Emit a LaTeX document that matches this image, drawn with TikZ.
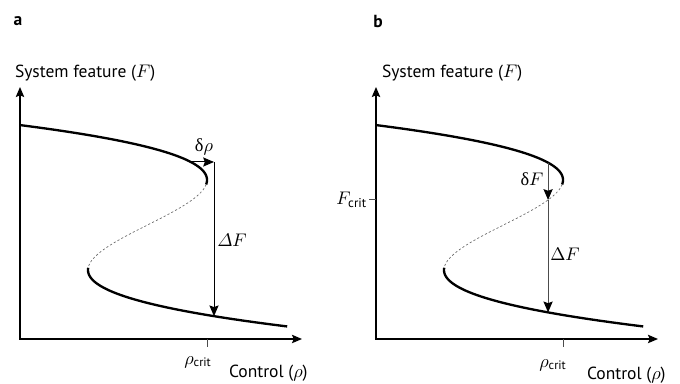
\documentclass[tikz,border=0pt]{standalone}
\usepackage{amsmath}
\usepackage{fontspec}
\setmainfont{PT Sans}
\newfontfamily\grkfont{Liberation Serif}
\usetikzlibrary{arrows.meta}

\begin{document}
\begin{tikzpicture}[
  x=0.6pt, y=0.6pt,
  font=\fontsize{10.5}{12}\selectfont,
  declare function={sx(\t)=147.5+29.75*(3*\t-\t*\t*\t); sy(\t)=159+45*\t;},
  % ── axes and S-curve
  axisline/.style={line width=0.9pt,
    {Stealth[length=6pt,width=5pt,inset=1pt]}-{Stealth[length=6pt,width=5pt,inset=1pt]}},
  stable/.style={line width=1.4pt},
  unstable/.style={line width=0.4pt, draw=black!60, dash pattern=on 1.3pt off 1.3pt},
  tickmark/.style={line width=0.6pt, draw=black!70},
  % ── arrows
  jump/.style={line width=0.6pt, -{Stealth[length=6.5pt,width=5.5pt,inset=1pt,color=black]}},
  % ── labels
  lbl/.style={inner sep=1pt},
  mlbl/.style={inner sep=1pt, font=\fontsize{11}{12}\selectfont},
  plbl/.style={inner sep=1pt, font=\fontsize{10.5}{12}\selectfont\bfseries},
]
\useasboundingbox (0,0) rectangle (680,384);

%% ───────────────────────────────────────────
%%  PANEL a
%% ───────────────────────────────────────────
\coordinate (Oa) at (20,45);
\coordinate (Ya) at (20,297);
\coordinate (Xa) at (302,45);
\draw[axisline] (Ya) |- (Xa);

\draw[stable]   plot[domain=2.222:0.9, samples=60, variable=\u] ({sx(\u)},{sy(\u)});
\draw[unstable] plot[domain=0.9:-0.95, samples=60, variable=\u] ({sx(\u)},{sy(\u)});
\draw[stable]   plot[domain=-0.95:-2.255, samples=60, variable=\u] ({sx(\u)},{sy(\u)});

\coordinate (nsa) at ({sx(1)},{sy(1)});
\coordinate (dra) at ({sx(1.4)},{sy(1.4)});
\coordinate (dre) at (214,{sy(1.4)});
\coordinate (lwa) at (214,{sy(-2.028)});

% rho shift, then the jump
\draw[jump] (dra) -- (dre);
\draw[jump] (dre) -- (lwa);

\draw[tickmark] (nsa |- Oa) -- ++(0,-8);

\node[plbl] (pa) at (18,363) {a};
\node[lbl, anchor=west] (sfa) at (13,311) {System feature ($F$)};
\node[mlbl] (dla) at (204,237) {{\grkfont δ}$\rho$};
\node[mlbl] (dfa) at (232,144) {$\varDelta F$};
\node[lbl] (rca) at (198,22) {$\rho_{\text{crit}}$};
\node[lbl, anchor=west] (cta) at (227,11) {Control ($\rho$)};

%% ───────────────────────────────────────────
%%  PANEL b
%% ───────────────────────────────────────────
\begin{scope}[shift={(356,0)}]
\coordinate (Ob) at (20,45);
\coordinate (Yb) at (20,297);
\coordinate (Xb) at (302,45);
\draw[axisline] (Yb) |- (Xb);

\draw[stable]   plot[domain=2.222:0.9, samples=60, variable=\u] ({sx(\u)},{sy(\u)});
\draw[unstable] plot[domain=0.9:-0.95, samples=60, variable=\u] ({sx(\u)},{sy(\u)});
\draw[stable]   plot[domain=-0.95:-2.255, samples=60, variable=\u] ({sx(\u)},{sy(\u)});

\coordinate (nsb) at ({sx(1)},{sy(1)});
\coordinate (upb) at ({sx(1.385)},{sy(1.385)});
\coordinate (mdb) at (upb |- {(0,{sy(0.556)})});
\coordinate (lwb) at (upb |- {(0,{sy(-1.942)})});

% F shift to the unstable branch, then the jump
\draw[jump, draw=black!70] (upb) -- (mdb);
\draw[jump, draw=black!70] (mdb) -- (lwb);

\draw[tickmark] (nsb |- Ob) -- ++(0,-8);
\draw[tickmark] (Ob |- mdb) -- ++(-7,0) coordinate (fct);

\node[plbl] (pb) at (22,363) {b};
\node[lbl, anchor=west] (sfb) at (24,311) {System feature ($F$)};
\node[mlbl, anchor=east] (fcb) at (fct) {$F_{\text{crit}}$};
\node[mlbl] (dlb) at (176,205) {{\grkfont δ}$F$};
\node[mlbl] (dfb) at (209,130) {$\Delta F$};
\node[lbl] (rcb) at (197,19) {$\rho_{\text{crit}}$};
\node[lbl, anchor=west] (ctb) at (229,9) {Control ($\rho$)};
\end{scope}

\end{tikzpicture}
\end{document}
